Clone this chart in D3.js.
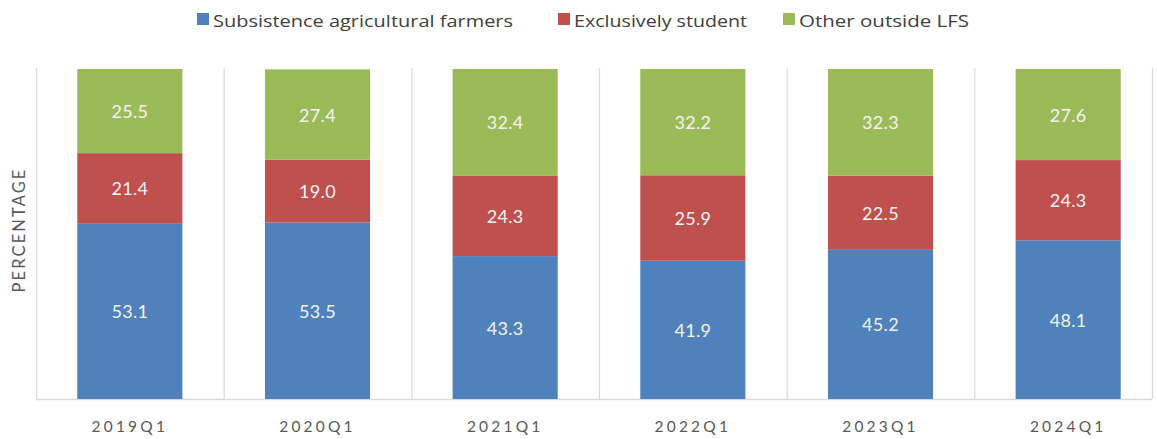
<!DOCTYPE html>
<html>
<head>
<meta charset="utf-8">
<script src="https://cdn.jsdelivr.net/npm/d3@7"></script>
<style>
  html, body { margin: 0; padding: 0; background: #fff; }
  svg { display: block; font-family: Lato, "Open Sans", sans-serif; }
</style>
</head>
<body>
<svg id="chart" width="1157" height="439"></svg>
<script>
// Quarters shown on the x axis
const quarters = ["2019Q1", "2020Q1", "2021Q1", "2022Q1", "2023Q1", "2024Q1"];

// Series, stacked bottom to top (percent)
const seriesNames = ["Subsistence agricultural farmers", "Exclusively student", "Other outside LFS"];
const subsistence = [53.1, 53.5, 43.3, 41.9, 45.2, 48.1];
const student     = [21.4, 19.0, 24.3, 25.9, 22.5, 24.3];
const otherLFS    = [25.5, 27.4, 32.4, 32.2, 32.3, 27.6];
const seriesColors = ["#4f81bd", "#c0504d", "#9bbb59"];

const rows = quarters.map((q, i) => ({
  quarter: q,
  [seriesNames[0]]: subsistence[i],
  [seriesNames[1]]: student[i],
  [seriesNames[2]]: otherLFS[i]
}));

const svg = d3.select("#chart");
const plot = { left: 36, right: 1162, top: 69, bottom: 399 };

const x = d3.scaleBand()
  .domain(quarters)
  .range([plot.left, plot.right])
  .paddingInner(0.44)
  .paddingOuter(0.22);

const y = d3.scaleLinear().domain([0, 100]).range([plot.bottom, plot.top]);

// Vertical separators between categories, plus the right frame edge
const step = x.step();
const seps = d3.range(quarters.length).map(i => plot.left + i * step).concat([1152]);
svg.append("g")
  .selectAll("line")
  .data(seps)
  .join("line")
  .attr("x1", d => d + 0.5).attr("x2", d => d + 0.5)
  .attr("y1", plot.top - 1).attr("y2", plot.bottom)
  .attr("stroke", "#d9d9d9").attr("stroke-width", 1.2);

// Baseline
svg.append("line")
  .attr("x1", plot.left).attr("x2", 1152)
  .attr("y1", plot.bottom + 0.5).attr("y2", plot.bottom + 0.5)
  .attr("stroke", "#d9d9d9").attr("stroke-width", 1.5);

const stack = d3.stack().keys(seriesNames);
const layers = stack(rows);

const g = svg.append("g");
layers.forEach((layer, li) => {
  g.append("g")
    .selectAll("rect")
    .data(layer)
    .join("rect")
    .attr("x", d => x(d.data.quarter))
    .attr("width", x.bandwidth())
    .attr("y", d => y(d[1]))
    .attr("height", d => y(d[0]) - y(d[1]))
    .attr("fill", seriesColors[li]);

  g.append("g")
    .selectAll("text")
    .data(layer)
    .join("text")
    .attr("x", d => x(d.data.quarter) + x.bandwidth() / 2)
    .attr("y", d => (y(d[0]) + y(d[1])) / 2)
    .attr("text-anchor", "middle")
    .attr("dominant-baseline", "central")
    .attr("fill", "#f4f4f4")
    .attr("font-size", 18)
    .attr("letter-spacing", "0.3px")
    .text(d => (d[1] - d[0]).toFixed(1));
});

// X axis labels
const xAxis = d3.axisBottom(x).tickSize(0).tickPadding(0);
const xg = svg.append("g")
  .attr("transform", `translate(0,${plot.bottom})`)
  .call(xAxis);
xg.select(".domain").remove();
xg.selectAll("text")
  .attr("y", 33)
  .attr("dy", 0)
  .attr("fill", "#595959")
  .attr("font-size", 15.5)
  .attr("letter-spacing", "3.2px")
  .attr("font-family", "Lato, 'Open Sans', sans-serif");

// Y axis title
svg.append("text")
  .attr("transform", "translate(25,230) rotate(-90)")
  .attr("text-anchor", "middle")
  .attr("fill", "#595959")
  .attr("font-size", 16.5)
  .attr("letter-spacing", "2.1px")
  .text("PERCENTAGE");

// Legend
const legendX = [197, 558, 783];
const legendLen = [300, 173, 170];
const legend = svg.append("g");
seriesNames.forEach((name, i) => {
  legend.append("rect")
    .attr("x", legendX[i]).attr("y", 13)
    .attr("width", 12).attr("height", 12)
    .attr("fill", seriesColors[i]);
  legend.append("text")
    .attr("x", legendX[i] + 16).attr("y", 27)
    .attr("fill", "#404040")
    .attr("font-family", "'Open Sans', Lato, sans-serif")
    .attr("font-size", 17)
    .attr("textLength", legendLen[i])
    .attr("lengthAdjust", "spacingAndGlyphs")
    .text(name);
});
</script>
</body>
</html>
